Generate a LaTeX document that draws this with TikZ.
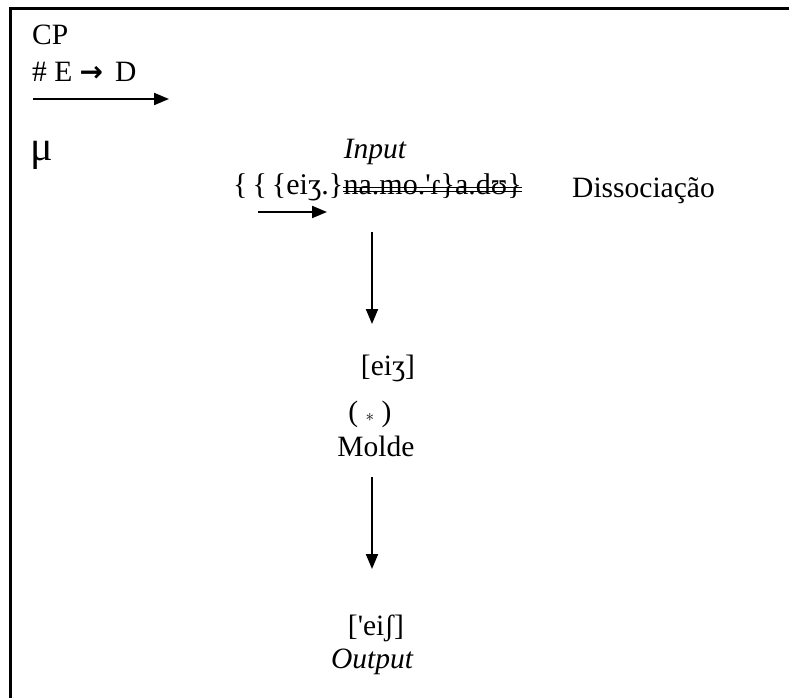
\documentclass[tikz,border=0pt]{standalone}
\usepackage{fontspec}
\setmainfont{Liberation Serif}
\newfontfamily\setafont{DejaVu Sans}
\usetikzlibrary{arrows.meta}

\tikzset{
    txt/.style = {inner sep=0pt, anchor=base, font=\fontsize{29.5}{33}\selectfont},
    ipa/.style = {txt, anchor=base west, font=\fontsize{30}{33}\selectfont},
    seta/.style = {line width=2pt, -{Triangle[length=15pt, width=12pt]}},
    risco/.style = {line width=1.3pt}
}

\begin{document}
\begin{tikzpicture}[x=1pt, y=-1pt]
    \useasboundingbox (0, 0) rectangle (789, 698);
    % moldura (aberta a direita e em baixo)
    \draw [line width=3pt] (10.5, 698) -- (10.5, 8.5) -- (789, 8.5);

    % canto superior esquerdo
    \node [txt, anchor=base west] (cp) at (32, 45) {CP};
    \node [txt, anchor=base west] (regra) at (32, 82) {\# E {\setafont\bfseries\fontsize{28}{30}\selectfont →\,} D};
    \coordinate (r0) at (33, 99);
    \coordinate (r1) at (169, 99);
    \draw [seta] (r0) -- (r1);
    \node [txt, anchor=base west, font=\fontsize{42}{46}\selectfont] (mu) at (30, 160) {μ};

    % input
    \node [txt, font=\fontsize{29.5}{33}\selectfont\itshape] (input) at (375, 158) {Input};
    \node [ipa] (formaA) at (233, 194) {\{\,\{\,\{eiʒ.\}};
    \node [ipa] (formaB) at (formaA.base east) {na.mo.\textquotesingle ɾ\}a.dʊ\}};
    \draw [risco] ([yshift=6.3pt]formaB.base west) -- ([yshift=6.3pt]formaB.base east);
    \draw [risco] ([yshift=2.8pt]formaB.base west) -- ([yshift=2.8pt]formaB.base east);
    \coordinate (d0) at (258, 212);
    \coordinate (d1) at (327, 212);
    \draw [seta] (d0) -- (d1);
    \node [txt, anchor=base west] (dissoc) at (572, 197) {Dissociação};

    % molde
    \node [txt] (eiz) at (388, 375) {[eiʒ]};
    \node [txt] (aster) at (370, 421) {( {\fontsize{18}{20}\selectfont $\ast$} )};
    \node [txt] (molde) at (376, 456) {Molde};

    % output
    \node [txt] (eish) at (376, 635) {[\textquotesingle eiʃ]};
    \node [txt, font=\fontsize{29.5}{33}\selectfont\itshape] (output) at (372, 668) {Output};

    % setas verticais
    \coordinate (a0) at (372, 232);
    \coordinate (a1) at (372, 324);
    \coordinate (b0) at (372, 477);
    \coordinate (b1) at (372, 569);
    \draw [seta] (a0) -- (a1);
    \draw [seta] (b0) -- (b1);
\end{tikzpicture}
\end{document}
